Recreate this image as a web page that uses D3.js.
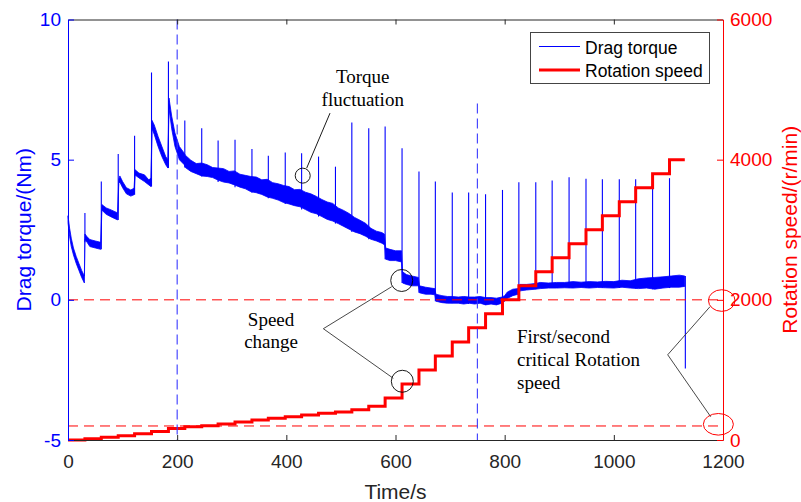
<!DOCTYPE html>
<html>
<head>
<meta charset="utf-8">
<script src="https://cdn.jsdelivr.net/npm/d3@7"></script>
<style>
  html, body { margin: 0; padding: 0; background: #fff; }
  svg { display: block; }
  .tick text { font-family: "Liberation Sans", Arial, sans-serif; font-size: 19px; }
</style>
</head>
<body>
<svg id="chart" width="801" height="502"></svg>
<script>
// ---- axis ticks ----
const timeTicks = [0, 200, 400, 600, 800, 1000, 1200];
const torqueTicks = [-5, 0, 5, 10];
const speedTicks = [0, 2000, 4000, 6000];

// ---- rotation speed: step times (s) and held speed (r/min) ----
const speedTimes = [0, 31, 61, 92, 122, 153, 184, 214, 245, 275, 306, 337, 367, 398, 428, 459, 490, 520, 551, 581,
  612, 643, 673, 704, 734, 765, 796, 826, 857, 887, 918, 949, 979, 1010, 1040, 1071, 1102, 1130];
const speedValues = [0, 18, 40, 62, 88, 122, 165, 188, 205, 228, 257, 285, 309, 333, 357, 380, 400, 430, 480, 600,
  800, 1000, 1200, 1400, 1600, 1800, 2000, 2200, 2400, 2600, 2800, 3000, 3200, 3400, 3600, 3800, 4000, 4000];

// ---- drag torque: band of the measured signal (Nm) ----
const torqueTime = [0, 3, 6, 10, 15, 20, 25, 30,
  31, 35, 40, 50, 60,
  62, 70, 80, 91,
  93, 95, 100, 107, 115, 121,
  123, 130, 140, 148, 152,
  154, 158, 165, 172, 179, 183,
  185, 190, 196, 204, 213,
  215, 225, 235, 245, 255, 265, 275, 285, 295, 305, 315, 325, 335, 345, 355, 365, 375, 385, 395,
  405, 415, 425, 435, 445, 455, 465, 475, 485, 495, 505, 515, 525, 535, 545, 555, 565, 575, 580,
  582, 590, 600, 611,
  613, 620, 630, 642,
  644, 655, 665, 672,
  674, 685, 695, 704, 715, 725, 735, 745, 755, 765, 775, 785, 795,
  800, 805, 815, 825,
  828, 840, 856,
  865, 880, 895, 910, 925, 940, 955, 970, 985, 1000, 1015, 1030, 1045, 1060, 1075, 1090, 1105, 1120, 1130];
const torqueLow = [2.75, 2.25, 1.9, 1.6, 1.3, 1.05, 0.8, 0.6,
  2.15, 2.05, 1.9, 1.85, 1.8,
  3.2, 3.05, 2.95, 2.85,
  4.15, 4.2, 4.0, 3.78, 3.7, 3.75,
  4.45, 4.35, 4.22, 4.1, 4.04,
  6.1, 5.9, 5.47, 5.11, 4.82, 4.7,
  6.85, 6.1, 5.47, 5.0, 4.82,
  4.72, 4.58, 4.5, 4.42, 4.4, 4.36, 4.27, 4.2, 4.17, 4.1, 4.02, 3.96, 3.86, 3.82, 3.76, 3.67, 3.62, 3.56, 3.47,
  3.42, 3.36, 3.32, 3.22, 3.12, 3.07, 2.97, 2.87, 2.81, 2.72, 2.62, 2.52, 2.42, 2.36, 2.27, 2.16, 2.1, 2.02, 1.96,
  1.45, 1.4, 1.4, 1.35,
  0.6, 0.55, 0.5, 0.5,
  0.25, 0.2, 0.2, 0.18,
  -0.05, -0.1, -0.12, -0.12, -0.12, -0.15, -0.12, -0.15, -0.12, -0.18, -0.15, -0.18, -0.12,
  -0.05, 0.05, 0.15, 0.2,
  0.32, 0.35, 0.38,
  0.4, 0.42, 0.42, 0.43, 0.42, 0.44, 0.42, 0.44, 0.43, 0.42, 0.45, 0.42, 0.4, 0.42, 0.38, 0.42, 0.45, 0.45, 0.48];
const torqueHigh = [3.0, 2.55, 2.2, 1.85, 1.55, 1.3, 1.05, 0.85,
  2.35, 2.25, 2.15, 2.1, 2.05,
  3.4, 3.28, 3.2, 3.1,
  4.3, 4.42, 4.22, 4.0, 3.92, 3.98,
  4.64, 4.52, 4.46, 4.28, 4.34,
  6.4, 6.24, 5.83, 5.47, 5.11, 5.0,
  7.2, 6.55, 5.95, 5.47, 5.23,
  5.16, 4.98, 4.86, 4.88, 4.82, 4.72, 4.7, 4.68, 4.58, 4.6, 4.48, 4.44, 4.4, 4.38, 4.28, 4.3, 4.18, 4.14, 4.08,
  4.04, 3.93, 3.94, 3.84, 3.78, 3.69, 3.58, 3.49, 3.44, 3.28, 3.19, 3.08, 2.94, 2.84, 2.73, 2.55, 2.45, 2.4, 2.34,
  1.85, 1.8, 1.75, 1.75,
  1.0, 0.9, 0.85, 0.8,
  0.5, 0.45, 0.42, 0.4,
  0.2, 0.15, 0.12, 0.12, 0.1, 0.12, 0.1, 0.1, 0.12, 0.08, 0.08, 0.06, 0.1,
  0.15, 0.28, 0.38, 0.4,
  0.55, 0.55, 0.58,
  0.62, 0.6, 0.62, 0.62, 0.65, 0.63, 0.65, 0.64, 0.66, 0.65, 0.7, 0.68, 0.75, 0.78, 0.8, 0.82, 0.85, 0.88, 0.85];

// ---- torque peaks at each speed change ----
const spikeTimes = speedTimes.slice(1, -1);
const spikePeaks = [3.1, 4.22, 5.2, 5.85, 8.11, 8.5, 6.4, 6.12, 5.68, 5.71, 5.38, 5.14, 5.26, 5.23, 5.11, 4.75,
  6.33, 6.12, 6.18, 5.41, 4.58, 4.22, 3.83, 3.83, 3.77, 3.92, 4.19, 4.19, 4.26, 4.37, 4.32, 4.3, 4.3, 4.3, 4.34, 4.34];
// final drop when the run stops
const dropTime = 1131;
const dropValue = -2.45;

// ---- reference lines ----
const markerTimes = [200, 750];
const markerTops = [10, 7];
const torqueZero = 0;
const lowSpeedLine = 200;

const svg = d3.select("#chart");
const x = d3.scaleLinear().domain([0, 1200]).range([68, 723]);
const yL = d3.scaleLinear().domain([-5, 10]).range([440, 19.5]);
const yR = d3.scaleLinear().domain([0, 6000]).range([440, 19.5]);

const BLUE = "#0000ff", RED = "#ff0000", INK = "#262626";
const plain = d => String(d).replace("\u2212", "-");

// torque band
const band = torqueTime.map((t, i) => ({ t, lo: torqueLow[i], hi: torqueHigh[i] }));
svg.append("path")
  .datum(band)
  .attr("d", d3.area().x(d => x(d.t)).y0(d => yL(d.lo)).y1(d => yL(d.hi)))
  .attr("fill", BLUE)
  .attr("stroke", BLUE)
  .attr("stroke-width", 0.8)
  .attr("stroke-linejoin", "round");

// spikes at speed changes
const baseAt = t => {
  const i = Math.max(0, d3.bisectRight(torqueTime, t) - 1);
  const j = Math.min(torqueTime.length - 1, i + 1);
  return Math.min(torqueLow[i], torqueLow[j]);
};
svg.append("g").selectAll("line")
  .data(spikeTimes.map((t, i) => ({ t, peak: spikePeaks[i] })))
  .join("line")
  .attr("x1", d => x(d.t)).attr("x2", d => x(d.t))
  .attr("y1", d => yL(d.peak)).attr("y2", d => yL(baseAt(d.t)))
  .attr("stroke", BLUE).attr("stroke-width", 1.1);

svg.append("line")
  .attr("x1", x(dropTime)).attr("x2", x(dropTime))
  .attr("y1", yL(torqueHigh[torqueHigh.length - 1])).attr("y2", yL(dropValue))
  .attr("stroke", BLUE).attr("stroke-width", 1.1);

// rotation speed steps
const steps = speedTimes.map((t, i) => ({ t, v: speedValues[i] }));
svg.append("path")
  .datum(steps)
  .attr("d", d3.line().x(d => x(d.t)).y(d => yR(d.v)).curve(d3.curveStepAfter))
  .attr("fill", "none")
  .attr("stroke", RED)
  .attr("stroke-width", 3);

// dashed reference lines
svg.append("g").selectAll("line")
  .data([yL(torqueZero), yR(lowSpeedLine)])
  .join("line")
  .attr("x1", x(0)).attr("x2", x(1200))
  .attr("y1", d => d).attr("y2", d => d)
  .attr("stroke", RED).attr("stroke-width", 1)
  .attr("stroke-dasharray", "10,6");

svg.append("g").selectAll("line")
  .data(markerTimes.map((t, i) => ({ t, top: markerTops[i] })))
  .join("line")
  .attr("x1", d => x(d.t)).attr("x2", d => x(d.t))
  .attr("y1", d => yL(d.top)).attr("y2", yL(-5))
  .attr("stroke", "#3a3aff").attr("stroke-width", 1.1)
  .attr("stroke-dasharray", "10,5");

// axes
function styleAxis(g, color) {
  g.select(".domain").attr("stroke", color);
  g.selectAll(".tick line").attr("stroke", color);
  g.selectAll(".tick text").attr("fill", color);
}
const gx = svg.append("g").attr("transform", `translate(0,${yL(-5)})`)
  .call(d3.axisBottom(x).tickValues(timeTicks).tickFormat(plain)
    .tickSizeInner(-5).tickSizeOuter(0).tickPadding(15));
styleAxis(gx, INK);
gx.selectAll(".tick").filter(d => d === 0 || d === 1200).select("line").remove();

const gt = svg.append("g").attr("transform", `translate(0,${yL(10)})`)
  .call(d3.axisTop(x).tickValues(timeTicks).tickSizeInner(-5).tickSizeOuter(0).tickFormat(""));
styleAxis(gt, INK);
gt.selectAll(".tick").filter(d => d === 0 || d === 1200).select("line").remove();

const gl = svg.append("g").attr("transform", `translate(${x(0)},0)`)
  .call(d3.axisLeft(yL).tickValues(torqueTicks).tickFormat(plain)
    .tickSizeInner(-6).tickSizeOuter(0).tickPadding(7));
styleAxis(gl, BLUE);

const gr = svg.append("g").attr("transform", `translate(${x(1200)},0)`)
  .call(d3.axisRight(yR).tickValues(speedTicks).tickFormat(plain)
    .tickSizeInner(-6).tickSizeOuter(0).tickPadding(7));
styleAxis(gr, RED);

// axis titles
svg.append("text")
  .attr("transform", `translate(23,${(yL(10) + yL(-5)) / 2}) rotate(-90)`)
  .attr("text-anchor", "middle").attr("dominant-baseline", "central")
  .attr("font-family", "Liberation Sans, Arial, sans-serif").attr("font-size", 21)
  .attr("fill", BLUE).text("Drag torque/(Nm)");
svg.append("text")
  .attr("transform", `translate(789,${(yR(0) + yR(6000)) / 2}) rotate(-90)`)
  .attr("text-anchor", "middle").attr("dominant-baseline", "central")
  .attr("font-family", "Liberation Sans, Arial, sans-serif").attr("font-size", 21)
  .attr("fill", RED).text("Rotation speed/(r/min)");
svg.append("text")
  .attr("x", (x(0) + x(1200)) / 2).attr("y", 491)
  .attr("text-anchor", "middle").attr("dominant-baseline", "central")
  .attr("font-family", "Liberation Sans, Arial, sans-serif").attr("font-size", 21)
  .attr("fill", INK).text("Time/s");

// legend
const lg = svg.append("g");
lg.append("rect").attr("x", 530.5).attr("y", 32.5).attr("width", 179).attr("height", 51)
  .attr("fill", "#fff").attr("stroke", "#444").attr("stroke-width", 1);
const legendItems = [
  { label: "Drag torque", color: BLUE, w: 1, y: 46.5 },
  { label: "Rotation speed", color: RED, w: 3, y: 70 }
];
legendItems.forEach(it => {
  lg.append("line").attr("x1", 539).attr("x2", 580).attr("y1", it.y).attr("y2", it.y)
    .attr("stroke", it.color).attr("stroke-width", it.w);
  lg.append("text").attr("x", 585).attr("y", it.y + 1).attr("dominant-baseline", "central")
    .attr("font-family", "Liberation Sans, Arial, sans-serif").attr("font-size", 17.5)
    .attr("fill", "#000").text(it.label);
});

// annotations
const serif = "Liberation Serif, Times New Roman, serif";
function label(lines, tx, ty, anchor, lh) {
  const t = svg.append("text").attr("font-family", serif).attr("font-size", 19).attr("fill", "#000")
    .attr("text-anchor", anchor);
  lines.forEach((s, i) => t.append("tspan").attr("x", x(tx)).attr("y", yL(ty) + i * lh)
    .attr("dominant-baseline", "central").text(s));
}
const leader = (pts, color) => svg.append("polyline")
  .attr("points", pts.map(p => p.join(",")).join(" "))
  .attr("fill", "none").attr("stroke", color).attr("stroke-width", 0.9);

// torque fluctuation
svg.append("circle").attr("cx", x(430)).attr("cy", yL(4.43)).attr("r", 7.5)
  .attr("fill", "none").attr("stroke", "#000").attr("stroke-width", 0.9);
leader([[x(437.3), yL(4.7)], [x(480), yL(6.66)]], "#000");
label(["Torque", "fluctuation"], 540, 7.96, "middle", 23);

// speed change
svg.append("circle").attr("cx", x(611.4)).attr("cy", yL(0.69)).attr("r", 11)
  .attr("fill", "none").attr("stroke", "#000").attr("stroke-width", 0.9);
svg.append("circle").attr("cx", x(612.5)).attr("cy", yR(838)).attr("r", 11)
  .attr("fill", "none").attr("stroke", "#000").attr("stroke-width", 0.9);
leader([[391.7, 286.7], [x(467.8), yL(-1.03)], [393.3, 378.3]], "#333");
label(["Speed", "change"], 372, -0.71, "middle", 22);

// critical speeds
svg.append("ellipse").attr("cx", x(1197.7)).attr("cy", yR(2000) + 0.7).attr("rx", 13.3).attr("ry", 10.8)
  .attr("fill", "none").attr("stroke", RED).attr("stroke-width", 1);
svg.append("ellipse").attr("cx", x(1191.5)).attr("cy", yR(224)).attr("rx", 15).attr("ry", 10.8)
  .attr("fill", "none").attr("stroke", RED).attr("stroke-width", 1);
leader([[710, 306.7], [x(1098.7), yL(-1.96)], [710.7, 416.7]], "#333");
label(["First/second", "critical Rotation", "speed"], 822.6, -1.32, "start", 23);
</script>
</body>
</html>
